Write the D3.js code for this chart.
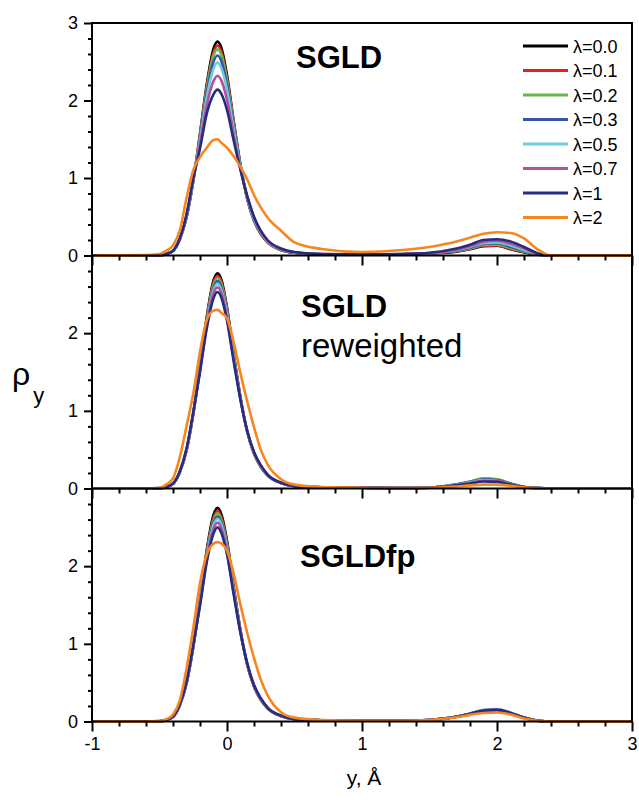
<!DOCTYPE html>
<html><head><meta charset="utf-8">
<script src="https://cdn.jsdelivr.net/npm/d3@7"></script>
<style>
body{margin:0;background:#fff;}
svg text{font-family:"Liberation Sans",Arial,Helvetica,sans-serif;}
</style></head>
<body><svg id="c" width="639" height="808"></svg>
<script>
// x grid (Å)
const X = [-1,-0.6,-0.5,-0.45,-0.4,-0.35,-0.3,-0.25,-0.2,-0.15,-0.1,-0.07,-0.04,0,0.05,0.1,0.15,0.2,0.25,0.3,0.4,0.5,0.7,1.0,1.3,1.5,1.7,1.8,1.9,2.0,2.1,2.2,2.3,2.4,3.0];

const lambdaLabels = ["λ=0.0","λ=0.1","λ=0.2","λ=0.3","λ=0.5","λ=0.7","λ=1","λ=2"];
const colors = ["#000000","#ec1c24","#62bb47","#3953a4","#6dcbdc","#b3519e","#262c7f","#f7861f"];
const panelTitles = [["SGLD"],["SGLD","reweighted"],["SGLDfp"]];
const yTickLabels = [[0,1,2,3],[0,1,2],[0,1,2]];
const xTickLabels = [-1,0,1,2,3];

// Panel 1: SGLD
const sgld_l00 = [0,0,0.004,0.02,0.06,0.21,0.49,0.96,1.57,2.21,2.67,2.76,2.67,2.33,1.73,1.17,0.73,0.45,0.28,0.17,0.07,0.035,0.015,0.01,0.015,0.025,0.05,0.08,0.12,0.125,0.08,0.04,0.01,0,0];
const sgld_l01 = [0,0,0.004,0.02,0.06,0.21,0.49,0.96,1.56,2.18,2.62,2.71,2.62,2.29,1.71,1.16,0.73,0.45,0.28,0.17,0.07,0.035,0.015,0.01,0.015,0.027,0.055,0.085,0.125,0.13,0.085,0.045,0.01,0,0];
const sgld_l02 = [0,0,0.004,0.02,0.06,0.21,0.50,0.97,1.54,2.15,2.58,2.66,2.58,2.26,1.69,1.16,0.74,0.46,0.29,0.18,0.07,0.035,0.015,0.01,0.015,0.03,0.06,0.09,0.135,0.14,0.095,0.05,0.012,0,0];
const sgld_l03 = [0,0,0.004,0.02,0.06,0.21,0.50,0.97,1.52,2.10,2.50,2.58,2.50,2.20,1.66,1.15,0.74,0.46,0.29,0.18,0.075,0.037,0.016,0.011,0.017,0.03,0.065,0.10,0.15,0.16,0.11,0.06,0.015,0,0];
const sgld_l05 = [0,0,0.004,0.02,0.06,0.21,0.51,0.97,1.49,2.04,2.41,2.49,2.41,2.14,1.62,1.14,0.75,0.47,0.30,0.18,0.08,0.04,0.017,0.012,0.018,0.03,0.07,0.11,0.16,0.17,0.13,0.07,0.018,0,0];
const sgld_l07 = [0,0,0.004,0.02,0.06,0.21,0.52,0.98,1.44,1.94,2.25,2.32,2.25,2.01,1.55,1.12,0.76,0.49,0.31,0.19,0.08,0.042,0.018,0.013,0.02,0.03,0.075,0.12,0.175,0.19,0.15,0.09,0.02,0,0];
const sgld_l1  = [0,0,0.004,0.02,0.06,0.22,0.53,0.99,1.38,1.83,2.08,2.14,2.08,1.88,1.48,1.10,0.77,0.50,0.32,0.20,0.09,0.045,0.02,0.015,0.02,0.035,0.09,0.14,0.20,0.21,0.18,0.11,0.03,0,0];
const sgld_l2  = [0,0.005,0.02,0.06,0.13,0.32,0.74,1.10,1.27,1.39,1.49,1.50,1.45,1.39,1.28,1.14,0.98,0.78,0.62,0.49,0.32,0.17,0.085,0.045,0.07,0.11,0.18,0.23,0.28,0.30,0.29,0.22,0.08,0,0];

// Panel 2: SGLD reweighted
const rew_l00 = [0,0,0.004,0.02,0.06,0.21,0.49,0.96,1.57,2.21,2.68,2.77,2.68,2.33,1.73,1.17,0.73,0.45,0.28,0.17,0.07,0.03,0.015,0.01,0.005,0.01,0.05,0.08,0.12,0.11,0.06,0.02,0.005,0,0];
const rew_l01 = [0,0,0.004,0.02,0.06,0.21,0.49,0.96,1.56,2.19,2.65,2.74,2.65,2.31,1.72,1.17,0.73,0.45,0.28,0.17,0.07,0.03,0.015,0.01,0.005,0.01,0.05,0.085,0.125,0.115,0.065,0.02,0.005,0,0];
const rew_l02 = [0,0,0.004,0.02,0.06,0.21,0.49,0.96,1.55,2.17,2.62,2.71,2.62,2.29,1.71,1.16,0.73,0.45,0.28,0.17,0.07,0.03,0.015,0.01,0.005,0.01,0.055,0.09,0.13,0.12,0.065,0.02,0.005,0,0];
const rew_l03 = [0,0,0.004,0.02,0.06,0.21,0.50,0.97,1.54,2.15,2.58,2.67,2.58,2.26,1.69,1.16,0.74,0.46,0.29,0.18,0.07,0.03,0.015,0.01,0.005,0.01,0.05,0.085,0.12,0.11,0.06,0.02,0.005,0,0];
const rew_l05 = [0,0,0.004,0.02,0.06,0.21,0.50,0.97,1.53,2.13,2.55,2.64,2.55,2.24,1.68,1.15,0.74,0.46,0.29,0.18,0.07,0.03,0.015,0.01,0.005,0.01,0.045,0.08,0.11,0.10,0.055,0.02,0.005,0,0];
const rew_l07 = [0,0,0.004,0.02,0.06,0.21,0.50,0.97,1.52,2.10,2.51,2.59,2.51,2.20,1.66,1.15,0.74,0.46,0.29,0.18,0.07,0.03,0.015,0.01,0.005,0.01,0.04,0.07,0.10,0.095,0.05,0.02,0.005,0,0];
const rew_l1  = [0,0,0.005,0.02,0.065,0.22,0.51,0.98,1.50,2.06,2.45,2.53,2.45,2.16,1.63,1.14,0.74,0.47,0.30,0.18,0.075,0.03,0.015,0.01,0.005,0.01,0.04,0.065,0.09,0.085,0.05,0.02,0.005,0,0];
const rew_l2  = [0,0,0.01,0.05,0.13,0.40,0.80,1.22,1.76,2.17,2.29,2.30,2.26,2.19,1.88,1.48,1.12,0.79,0.50,0.31,0.12,0.05,0.02,0.01,0.005,0.01,0.025,0.04,0.05,0.05,0.035,0.015,0.005,0,0];

// Panel 3: SGLDfp
const fp_l00 = [0,0,0.004,0.02,0.06,0.21,0.49,0.96,1.57,2.21,2.66,2.75,2.66,2.33,1.73,1.17,0.73,0.45,0.28,0.17,0.07,0.03,0.015,0.01,0.01,0.02,0.06,0.10,0.14,0.15,0.11,0.05,0.01,0,0];
const fp_l01 = [0,0,0.004,0.02,0.06,0.21,0.49,0.96,1.56,2.18,2.62,2.71,2.62,2.30,1.71,1.17,0.73,0.45,0.28,0.17,0.07,0.03,0.015,0.01,0.01,0.02,0.06,0.10,0.14,0.15,0.11,0.05,0.01,0,0];
const fp_l02 = [0,0,0.004,0.02,0.06,0.21,0.49,0.96,1.55,2.17,2.59,2.68,2.59,2.28,1.70,1.16,0.73,0.46,0.28,0.17,0.07,0.03,0.015,0.01,0.01,0.02,0.06,0.10,0.145,0.155,0.11,0.05,0.01,0,0];
const fp_l03 = [0,0,0.004,0.02,0.06,0.21,0.50,0.97,1.54,2.14,2.56,2.64,2.56,2.25,1.69,1.16,0.74,0.46,0.29,0.18,0.07,0.03,0.015,0.01,0.01,0.02,0.06,0.10,0.145,0.155,0.11,0.05,0.01,0,0];
const fp_l05 = [0,0,0.004,0.02,0.06,0.21,0.50,0.97,1.53,2.12,2.53,2.61,2.53,2.23,1.67,1.15,0.74,0.46,0.29,0.18,0.07,0.03,0.015,0.01,0.01,0.02,0.06,0.10,0.15,0.16,0.115,0.05,0.01,0,0];
const fp_l07 = [0,0,0.004,0.02,0.06,0.21,0.50,0.97,1.51,2.09,2.48,2.56,2.48,2.19,1.65,1.15,0.74,0.46,0.29,0.18,0.07,0.03,0.015,0.01,0.01,0.02,0.06,0.10,0.145,0.155,0.11,0.05,0.01,0,0];
const fp_l1  = [0,0,0.005,0.02,0.065,0.22,0.51,0.98,1.49,2.05,2.42,2.50,2.42,2.15,1.63,1.14,0.75,0.47,0.30,0.18,0.075,0.03,0.015,0.01,0.01,0.02,0.06,0.10,0.14,0.15,0.11,0.05,0.01,0,0];
const fp_l2  = [0,0,0.005,0.03,0.09,0.27,0.68,1.20,1.78,2.15,2.29,2.31,2.29,2.20,1.90,1.50,1.14,0.82,0.54,0.34,0.12,0.05,0.02,0.01,0.01,0.02,0.055,0.085,0.11,0.115,0.09,0.04,0.01,0,0];

const panelSeries = [
  [sgld_l00,sgld_l01,sgld_l02,sgld_l03,sgld_l05,sgld_l07,sgld_l1,sgld_l2],
  [rew_l00,rew_l01,rew_l02,rew_l03,rew_l05,rew_l07,rew_l1,rew_l2],
  [fp_l00,fp_l01,fp_l02,fp_l03,fp_l05,fp_l07,fp_l1,fp_l2]
];

// ---------- layout ----------
const svg = d3.select("#c");
const left = 92, right = 632;
const panelTop = [23, 255.5, 488.5];
const panelBot = [255.5, 488.5, 721.5];
const x = d3.scaleLinear().domain([-1,3]).range([left,right]);

const majorX = xTickLabels;
const minorX = d3.range(-1,3.001,0.2).map(v=>+v.toFixed(2)).filter(v=>Math.abs(v-Math.round(v))>1e-6);
const plainFmt = d => String(d);

panelSeries.forEach((series,p)=>{
  const y = d3.scaleLinear().domain([0,3]).range([panelBot[p],panelTop[p]]);
  const g = svg.append("g");
  const clipId = "clip"+p;
  svg.append("clipPath").attr("id",clipId).append("rect")
     .attr("x",left).attr("y",panelTop[p]-5).attr("width",right-left).attr("height",panelBot[p]-panelTop[p]+10);
  const line = d3.line().x((d,i)=>x(X[i])).y(d=>y(d)).curve(d3.curveMonotoneX);
  const lg = g.append("g").attr("clip-path",`url(#${clipId})`);
  series.forEach((s,k)=>{
    lg.append("path").attr("d",line(s)).attr("fill","none")
      .attr("stroke",colors[k]).attr("stroke-width",2.6).attr("stroke-linejoin","round");
  });

  // y axis
  const yMinor = d3.range(0,3.001,0.2).map(v=>+v.toFixed(2)).filter(v=>Math.abs(v-Math.round(v))>1e-6 && v<2.99);
  const yAxMinor = d3.axisLeft(y).tickValues(yMinor).tickSize(4).tickFormat("");
  const yAxMajor = d3.axisLeft(y).tickValues(yTickLabels[p]).tickSize(8).tickPadding(6).tickFormat(plainFmt);
  [yAxMinor,yAxMajor].forEach(ax=>{
    const a = g.append("g").attr("transform",`translate(${left},0)`).call(ax);
    a.select(".domain").remove();
    a.selectAll("line").attr("stroke","#000").attr("stroke-width",2);
    a.selectAll("text").attr("font-size",18).attr("fill","#000");
  });
  // x axis
  const xAxMinor = d3.axisBottom(x).tickValues(minorX).tickSize(5).tickFormat("");
  const xAxMajor = d3.axisBottom(x).tickValues(majorX).tickSize(10).tickPadding(6)
      .tickFormat(p===2 ? plainFmt : "");
  [xAxMinor,xAxMajor].forEach(ax=>{
    const a = g.append("g").attr("transform",`translate(0,${panelBot[p]})`).call(ax);
    a.select(".domain").remove();
    a.selectAll("line").attr("stroke","#000").attr("stroke-width",2);
    a.selectAll("text").attr("font-size",18).attr("fill","#000");
  });
  // frame lines
  g.append("line").attr("x1",left).attr("x2",right).attr("y1",panelBot[p]).attr("y2",panelBot[p])
   .attr("stroke","#000").attr("stroke-width",2);
  g.append("line").attr("x1",left).attr("x2",left).attr("y1",panelTop[p]).attr("y2",panelBot[p])
   .attr("stroke","#000").attr("stroke-width",2);
});
// outer top & right
svg.append("line").attr("x1",left-1).attr("x2",right+1).attr("y1",panelTop[0]).attr("y2",panelTop[0]).attr("stroke","#000").attr("stroke-width",2);
svg.append("line").attr("x1",right).attr("x2",right).attr("y1",panelTop[0]).attr("y2",panelBot[2]).attr("stroke","#000").attr("stroke-width",2);

// titles
svg.append("text").attr("x",296).attr("y",68).attr("font-size",31).attr("font-weight","bold").text(panelTitles[0][0]);
svg.append("text").attr("x",301).attr("y",317).attr("font-size",31).attr("font-weight","bold").text(panelTitles[1][0]);
svg.append("text").attr("x",301).attr("y",357).attr("font-size",33).text(panelTitles[1][1]);
svg.append("text").attr("x",300).attr("y",567).attr("font-size",31).attr("font-weight","bold").text(panelTitles[2][0]);

// legend
const legY0 = 46, legDy = 24.5;
lambdaLabels.forEach((lab,k)=>{
  const yy = legY0 + k*legDy;
  svg.append("line").attr("x1",523).attr("x2",568).attr("y1",yy).attr("y2",yy)
     .attr("stroke",colors[k]).attr("stroke-width",2.8);
  svg.append("text").attr("x",573).attr("y",yy+6.5).attr("font-size",18).text(lab);
});

// axis titles
const yl = svg.append("text").attr("x",12).attr("y",385).attr("font-size",32);
yl.append("tspan").text("ρ");
yl.append("tspan").attr("font-size",22).attr("dy",18).attr("dx",3).text("y");
svg.append("text").attr("x",364).attr("y",785).attr("text-anchor","middle").attr("font-size",21).text("y, Å");
</script></body></html>
